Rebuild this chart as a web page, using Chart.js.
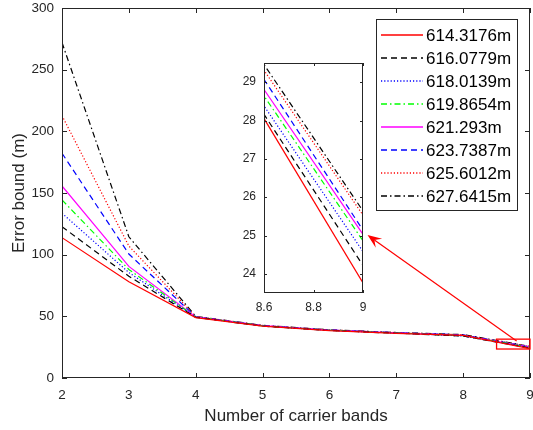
<!DOCTYPE html>
<html>
<head>
<meta charset="utf-8">
<script src="https://cdn.jsdelivr.net/npm/chart.js@4.4.0/dist/chart.umd.min.js"></script>
<style>
body { margin: 0; background: #fff; }
#wrap { position: relative; width: 533px; height: 430px; overflow: hidden; }
#main_chart { position: absolute; left: 0; top: 0; }
#zoom_chart { position: absolute; left: 226px; top: 55px; }
</style>
</head>
<body>
<div id="wrap">
<canvas id="main_chart" width="533" height="430"></canvas>
<canvas id="zoom_chart" width="145" height="262"></canvas>
</div>
<script>
// number of carrier bands
var bands = [2, 3, 4, 5, 6, 7, 8, 9];

// error bound (m) for each baseline length
var names = ['614.3176m', '616.0779m', '618.0139m', '619.8654m', '621.293m', '623.7387m', '625.6012m', '627.6415m'];
var b614 = [113.8, 78.0, 49.0, 42.0, 38.4, 36.2, 34.49, 23.76];
var b616 = [122.7, 82.5, 49.2, 42.1, 38.5, 36.3, 34.07, 24.22];
var b618 = [133.6, 85.5, 49.3, 42.2, 38.6, 36.4, 34.08, 24.58];
var b619 = [144.4, 88.0, 49.4, 42.3, 38.7, 36.5, 34.31, 24.86];
var b621 = [155.7, 90.5, 49.5, 42.4, 38.8, 36.6, 34.48, 25.03];
var b623 = [182.2, 100.5, 49.6, 42.5, 38.9, 36.7, 34.97, 25.14];
var b625 = [212.7, 107.0, 49.8, 42.6, 39.0, 36.8, 34.98, 25.53];
var b627 = [272.0, 114.5, 50.0, 42.7, 39.1, 36.9, 35.19, 25.64];

// tick labels
var xTicks = [2, 3, 4, 5, 6, 7, 8, 9];
var yTicks = [0, 50, 100, 150, 200, 250, 300];
var zoomXTicks = [8.6, 8.8, 9];
var zoomYTicks = [24, 25, 26, 27, 28, 29];

var series = [b614, b616, b618, b619, b621, b623, b625, b627];
var colors = ['#ff0000', '#000000', '#0000ff', '#00ff00', '#ff00ff', '#0000ff', '#ff0000', '#000000'];
var dashes = [[], [6, 4], [1.2, 2], [6, 3, 1.5, 3], [], [6, 4], [1.2, 2], [6, 3, 1.5, 3]];

// zoom box and arrow, in data units of the big plot
var zoomBox = { x0: 8.5, x1: 9, y0: 23.5, y1: 31.5 };
var arrowFrom = { x: 8.8, y: 30.0 };
var arrowTo = { x: 6.57, y: 115.9 };

var axisColor = '#262626';
var fontFamily = '"Liberation Sans", Arial, sans-serif';

function makeDatasets() {
    var sets = [];
    for (var i = 0; i < series.length; i++) {
        sets.push({
            label: names[i],
            data: bands.map(function(b, j) { return { x: b, y: series[i][j] }; }),
            borderColor: colors[i],
            borderDash: dashes[i],
            borderWidth: 1.2,
            pointRadius: 0,
            tension: 0,
            fill: false
        });
    }
    return sets;
}

function fixedTicks(list) {
    return function(scale) {
        scale.ticks = list.map(function(v) { return { value: v }; });
    };
}

function fixHeight(h) {
    return function(s) {
        s.height = h;
        s.paddingLeft = 0; s.paddingRight = 0; s.paddingTop = 0; s.paddingBottom = 0;
    };
}

function fixWidth(w) {
    return function(s) {
        s.width = w;
        s.paddingLeft = 0; s.paddingRight = 0; s.paddingTop = 0; s.paddingBottom = 0;
    };
}

// inward tick marks on all four sides, like a boxed axes
function drawBox(chart, len) {
    var ctx = chart.ctx;
    var a = chart.chartArea;
    var xs = chart.scales.x, ys = chart.scales.y;
    ctx.save();
    ctx.strokeStyle = axisColor;
    ctx.lineWidth = 1;
    ctx.setLineDash([]);
    ctx.strokeRect(Math.round(a.left) + 0.5, Math.round(a.top) + 0.5,
        Math.round(a.right - a.left) - 1, Math.round(a.bottom - a.top) - 1);
    ctx.beginPath();
    xs.ticks.forEach(function(t) {
        var px = Math.round(xs.getPixelForValue(t.value)) + 0.5;
        ctx.moveTo(px, a.bottom); ctx.lineTo(px, a.bottom - len);
        ctx.moveTo(px, a.top); ctx.lineTo(px, a.top + len);
    });
    ys.ticks.forEach(function(t) {
        var py = Math.round(ys.getPixelForValue(t.value)) + 0.5;
        ctx.moveTo(a.left, py); ctx.lineTo(a.left + len, py);
        ctx.moveTo(a.right, py); ctx.lineTo(a.right - len, py);
    });
    ctx.stroke();
    ctx.restore();
}

var mainDecor = {
    id: 'mainDecor',
    afterDraw: function(chart) {
        var ctx = chart.ctx;
        var xs = chart.scales.x, ys = chart.scales.y;
        var a = chart.chartArea;
        drawBox(chart, 5);

        // axis titles
        ctx.save();
        ctx.fillStyle = axisColor;
        ctx.font = '17px ' + fontFamily;
        ctx.textAlign = 'center';
        ctx.textBaseline = 'middle';
        ctx.fillText('Number of carrier bands', (a.left + a.right) / 2, 416);
        ctx.translate(19, (a.top + a.bottom) / 2);
        ctx.rotate(-Math.PI / 2);
        ctx.fillText('Error bound (m)', 0, 0);
        ctx.restore();

        // legend
        var lx = 376.5, ly = 19.5, lw = 141, lh = 191;
        ctx.save();
        ctx.fillStyle = '#fff';
        ctx.fillRect(lx, ly, lw, lh);
        ctx.strokeStyle = axisColor;
        ctx.lineWidth = 1;
        ctx.strokeRect(lx, ly, lw, lh);
        ctx.font = '17px ' + fontFamily;
        ctx.textAlign = 'left';
        ctx.textBaseline = 'middle';
        chart.data.datasets.forEach(function(ds, i) {
            var y = 35 + 23 * i;
            ctx.strokeStyle = ds.borderColor;
            ctx.lineWidth = 1.6;
            ctx.setLineDash(ds.borderDash);
            ctx.beginPath();
            ctx.moveTo(381, y);
            ctx.lineTo(423, y);
            ctx.stroke();
            ctx.setLineDash([]);
            ctx.fillStyle = '#000';
            ctx.fillText(ds.label, 426, y + 1);
        });
        ctx.restore();

        // zoom box and arrow to the inset
        ctx.save();
        ctx.strokeStyle = '#ff0000';
        ctx.fillStyle = '#ff0000';
        ctx.lineWidth = 1.3;
        var rx0 = xs.getPixelForValue(zoomBox.x0), rx1 = xs.getPixelForValue(zoomBox.x1);
        var ry0 = ys.getPixelForValue(zoomBox.y1), ry1 = ys.getPixelForValue(zoomBox.y0);
        ctx.strokeRect(rx0, ry0, rx1 - rx0, ry1 - ry0);

        var fx = xs.getPixelForValue(arrowFrom.x), fy = ys.getPixelForValue(arrowFrom.y);
        var tx = xs.getPixelForValue(arrowTo.x), ty = ys.getPixelForValue(arrowTo.y);
        var dx = fx - tx, dy = fy - ty;
        var d = Math.sqrt(dx * dx + dy * dy);
        var ux = dx / d, uy = dy / d, nx = -uy, ny = ux;
        var hl = 14, hw = 5.5;
        ctx.lineWidth = 1.2;
        ctx.beginPath();
        ctx.moveTo(fx, fy);
        ctx.lineTo(tx + ux * hl * 0.6, ty + uy * hl * 0.6);
        ctx.stroke();
        ctx.beginPath();
        ctx.moveTo(tx, ty);
        ctx.lineTo(tx + ux * hl + nx * hw, ty + uy * hl + ny * hw);
        ctx.lineTo(tx + ux * hl * 0.6, ty + uy * hl * 0.6);
        ctx.lineTo(tx + ux * hl - nx * hw, ty + uy * hl - ny * hw);
        ctx.closePath();
        ctx.fill();
        ctx.restore();
    }
};

var zoomDecor = {
    id: 'zoomDecor',
    beforeDatasetsDraw: function(chart) {
        var a = chart.chartArea;
        chart.ctx.save();
        chart.ctx.fillStyle = '#fff';
        chart.ctx.fillRect(a.left, a.top, a.right - a.left, a.bottom - a.top);
        chart.ctx.restore();
    },
    afterDraw: function(chart) {
        drawBox(chart, 3);
    }
};

var tickFont = { family: fontFamily, size: 13.5 };
var zoomTickFont = { family: fontFamily, size: 12 };
var noGrid = { display: false, drawTicks: false, tickLength: 0 };

var main_chart = new Chart(document.getElementById('main_chart').getContext('2d'), {
    type: 'line',
    data: { datasets: makeDatasets() },
    options: {
        responsive: false,
        animation: false,
        layout: { padding: { top: 8, right: 3, left: 0, bottom: 0 } },
        plugins: { legend: { display: false }, tooltip: { enabled: false } },
        scales: {
            x: {
                type: 'linear', min: 2, max: 9,
                afterBuildTicks: fixedTicks(xTicks),
                afterFit: fixHeight(52),
                grid: noGrid,
                border: { display: false },
                ticks: { color: axisColor, font: tickFont, padding: 9, autoSkip: false, maxRotation: 0,
                    callback: function(v) { return String(v); } }
            },
            y: {
                min: 0, max: 300,
                afterBuildTicks: fixedTicks(yTicks),
                afterFit: fixWidth(62),
                grid: noGrid,
                border: { display: false },
                ticks: { color: axisColor, font: tickFont, padding: 8,
                    callback: function(v) { return String(v); } }
            }
        }
    },
    plugins: [mainDecor]
});

var zoom_chart = new Chart(document.getElementById('zoom_chart').getContext('2d'), {
    type: 'line',
    data: { datasets: makeDatasets() },
    options: {
        responsive: false,
        animation: false,
        layout: { padding: { top: 8, right: 8, left: 0, bottom: 0 } },
        plugins: { legend: { display: false }, tooltip: { enabled: false } },
        scales: {
            x: {
                type: 'linear', min: 8.6, max: 9,
                afterBuildTicks: fixedTicks(zoomXTicks),
                afterFit: fixHeight(24),
                grid: noGrid,
                border: { display: false },
                ticks: { color: axisColor, font: zoomTickFont, padding: 7,
                    autoSkip: false, maxRotation: 0, callback: function(v) { return String(v); } }
            },
            y: {
                min: 23.5, max: 29.5,
                afterBuildTicks: fixedTicks(zoomYTicks),
                afterFit: fixWidth(38),
                grid: noGrid,
                border: { display: false },
                ticks: { color: axisColor, font: zoomTickFont, padding: 8,
                    callback: function(v) { return String(v); } }
            }
        }
    },
    plugins: [zoomDecor]
});
</script>
</body>
</html>
